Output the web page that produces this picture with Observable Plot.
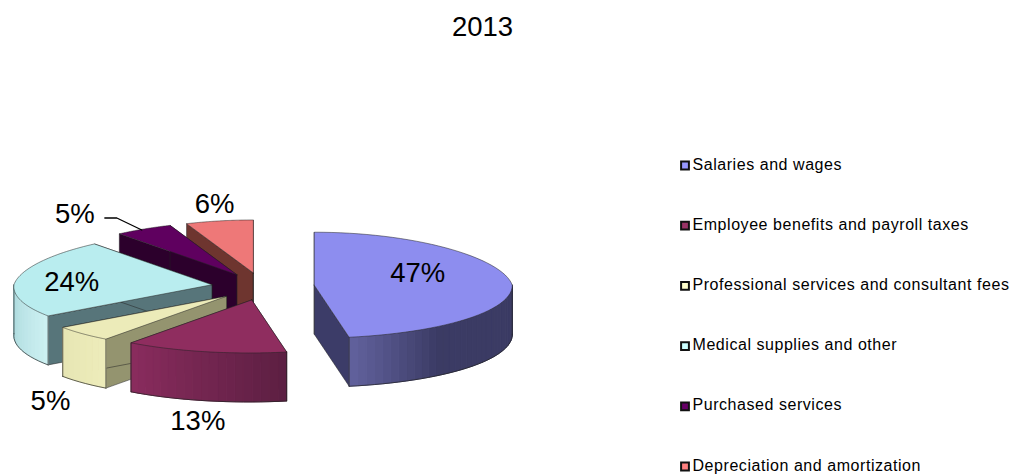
<!DOCTYPE html>
<html>
<head>
<meta charset="utf-8">
<script src="https://cdn.jsdelivr.net/npm/d3@7"></script>
<script src="https://cdn.jsdelivr.net/npm/@observablehq/plot@0.6"></script>
<style>
  html, body { margin: 0; padding: 0; background: #fff; }
  svg { display: block; }
  .legend-label text { letter-spacing: 0.55px; }
</style>
</head>
<body>
<div id="chart"></div>
<script>
// Operating expense shares for 2013
const chartTitle = "2013";
const categories = [
  "Salaries and wages",
  "Employee benefits and payroll taxes",
  "Professional services and consultant fees",
  "Medical supplies and other",
  "Purchased services",
  "Depreciation and amortization"
];
const shares = [47, 13, 5, 24, 5, 6];

// Palette: legend swatch, top face, cut face, outer wall ramp
const swatchColors = ["#9999ff", "#993366", "#ffffcc", "#ccffff", "#660066", "#ff8080"];
const topColors = ["#8d8def", "#8f2d5f", "#ecebb9", "#b9edef", "#5f005f", "#ee7878"];
const cutColors = ["#3c3c68", "#5f1f43", "#94946f", "#57757a", "#2c002c", "#6e352f"];
const wallLit = ["#62629e", "#8a2c5e", "#eeedbb", "#cdf1f2", "#2c002c", "#6e352f"];
const wallDim = ["#3b3b64", "#5c1f42", "#e6e5b3", "#a8d6da", "#2c002c", "#6e352f"];
// Share of the wall, counted from its lit end, over which the shade settles
const wallFade = [0.35, 1, 1, 1, 1, 1];
// Whether the lit end of the wall is the one at the slice's later angle
const litAtEnd = [true, true, false, false, false, false];

// Layout of the tilted, exploded pie
const pie = {cx: 262.5, cy: 286, rx: 198, ry: 53, depth: 49, explode: 0.26, narrowing: 0.09, widening: 0.02, lean: 3};
const paintOrder = [5, 4, 3, 0, 2, 1];
const labelShift = [[-92, -7], [-7, 70], [-32, 67], [54, 4], [-69, -15], [-5, -17]];
const legendLeft = 692;
const legendTop = 165;
const legendStep = 60.2;

const rad = d => d * Math.PI / 180;
const total = d3.sum(shares);
let running = 0;
const slices = shares.map((share, i) => {
  const a0 = running / total * 360;
  running += share;
  const a1 = running / total * 360;
  const mid = rad((a0 + a1) / 2);
  return {
    i, a0, a1,
    cx: pie.cx + pie.explode * pie.rx * Math.sin(mid),
    cy: pie.cy - pie.explode * pie.ry * Math.cos(mid)
  };
});

// A rim point of a slice at the given angle, clockwise from twelve o'clock.
// The far half narrows and the near half widens and leans left, as the view is not square on.
function rim(slice, angle, drop = 0) {
  const s = Math.sin(rad(angle)), c = Math.cos(rad(angle));
  const spread = c > 0 ? 1 - pie.narrowing * c : 1 - pie.widening * c;
  return [
    slice.cx + pie.rx * s * spread + pie.lean * Math.min(c, 0),
    slice.cy - pie.ry * c + drop
  ];
}

const polygons = [];
let nextId = 0;
function addPolygon(points, fill, stroke, strokeWidth) {
  const id = nextId++;
  [...points, points[0]].forEach(([x, y]) => polygons.push({id, x, y, fill, stroke, strokeWidth}));
}
function addOutline(points) {
  const id = nextId++;
  points.forEach(([x, y]) => polygons.push({id, x, y, fill: "none", stroke: "#222", strokeWidth: 0.7}));
}

for (const i of paintOrder) {
  const slice = slices[i];
  const apex = [slice.cx, slice.cy];
  const apexLow = [slice.cx, slice.cy + pie.depth];
  const angles = d3.range(0, 61).map(k => slice.a0 + (slice.a1 - slice.a0) * k / 60);

  // Cut faces along both radial edges
  for (const a of [slice.a0, slice.a1]) {
    addPolygon([apex, rim(slice, a), rim(slice, a, pie.depth), apexLow], cutColors[i], "#222", 0.5);
  }
  // Outer wall on the near half, shaded strip by strip
  const ramp = d3.interpolateRgb(wallLit[i], wallDim[i]);
  const start = Math.max(slice.a0, 90), end = Math.min(slice.a1, 270);
  if (end > start) {
    const steps = Math.max(6, Math.round((end - start) / 2.5));
    const front = d3.range(0, steps + 1).map(k => start + (end - start) * k / steps);
    front.slice(1).forEach((a, k) => {
      const along = (k + 0.5) / steps;
      const fromLit = litAtEnd[i] ? 1 - along : along;
      const tone = ramp(Math.min(1, fromLit / wallFade[i]));
      const strip = [rim(slice, front[k]), rim(slice, a), rim(slice, a, pie.depth), rim(slice, front[k], pie.depth)];
      addPolygon(strip, tone, tone, 1);
    });
    addOutline(front.map(a => rim(slice, a, pie.depth)));
    addOutline([rim(slice, start), rim(slice, start, pie.depth)]);
    addOutline([rim(slice, end), rim(slice, end, pie.depth)]);
  }
  // Top face
  addPolygon([apex, ...angles.map(a => rim(slice, a))], topColors[i], "#222", 0.5);
}

const labels = slices.map((slice, i) => {
  const [x, y] = rim(slice, (slice.a0 + slice.a1) / 2);
  return {text: `${shares[i]}%`, x: x + labelShift[i][0], y: y + labelShift[i][1]};
});

// Leader line for the purchased services label
const leaderAnchor = rim(slices[4], (slices[4].a0 + slices[4].a1) / 2);
const leader = [
  {x: leaderAnchor[0] - 2, y: leaderAnchor[1] + 1},
  {x: leaderAnchor[0] - 27, y: leaderAnchor[1] - 11},
  {x: leaderAnchor[0] - 39, y: leaderAnchor[1] - 11}
];

const legend = categories.map((name, i) => ({
  name, color: swatchColors[i], y: legendTop + i * legendStep
}));

const font = "Liberation Sans, Arial, sans-serif";
const plot = Plot.plot({
  width: 1013,
  height: 474,
  margin: 0,
  x: {domain: [0, 1013], range: [0, 1013], axis: null},
  y: {domain: [0, 474], range: [0, 474], axis: null},
  style: {fontFamily: font, background: "#fff"},
  marks: [
    Plot.line(polygons, {
      x: "x", y: "y", z: "id", fill: "fill", stroke: "stroke",
      strokeWidth: "strokeWidth", curve: "linear", strokeLinejoin: "round"
    }),
    Plot.line(leader, {x: "x", y: "y", stroke: "#000", strokeWidth: 1.3}),
    Plot.text(labels, {x: "x", y: "y", text: "text", fontSize: 27.5, fill: "#000"}),
    Plot.text([chartTitle], {x: () => 482, y: () => 27, text: d => d, fontSize: 27.5, fill: "#000"}),
    Plot.dot(legend, {
      x: () => legendLeft - 7.5, y: "y", symbol: "square", r: 4.4,
      fill: "color", stroke: "#111", strokeWidth: 2
    }),
    Plot.text(legend, {
      x: () => legendLeft, y: d => d.y - 1, text: "name", textAnchor: "start",
      fontSize: 16, fill: "#000", className: "legend-label"
    })
  ]
});
document.getElementById("chart").append(plot);
</script>
</body>
</html>
